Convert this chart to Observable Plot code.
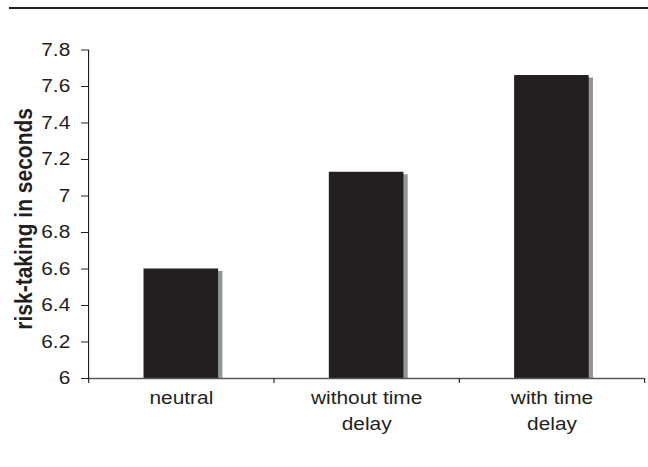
<!DOCTYPE html>
<html>
<head>
<meta charset="utf-8">
<script src="https://cdn.jsdelivr.net/npm/d3@7"></script>
<script src="https://cdn.jsdelivr.net/npm/@observablehq/plot@0.6"></script>
<style>
  html, body { margin: 0; padding: 0; background: white; }
  #wrap { position: relative; width: 648px; height: 467px; overflow: hidden; }
  #topline { position: absolute; left: 9px; top: 7px; width: 639px; height: 2px; background: #231f20; z-index: 2; }
  #chart svg { transform: scaleX(1.13); transform-origin: 0 0; display: block; }
</style>
</head>
<body>
<div id="wrap">
  <div id="topline"></div>
  <div id="chart"></div>
</div>
<script>
const categories = ["neutral", "without time\ndelay", "with time\ndelay"];
const values = [6.60, 7.13, 7.66];
const yTicks = [6, 6.2, 6.4, 6.6, 6.8, 7, 7.2, 7.4, 7.6, 7.8];
const yLabel = ["risk-taking in seconds"];

const data = categories.map((c, i) => ({category: c, value: values[i]}));

const S = 1.13;
const W = 648 / S;
const ml = 88 / S;
const mr = W - 644 / S;
const half = (W - ml - mr) / categories.length / 2;
const ink = "#231f20";

const chart = Plot.plot({
  width: W,
  height: 467,
  marginLeft: ml,
  marginRight: mr,
  marginTop: 49.5,
  marginBottom: 89,
  style: {fontFamily: "'Liberation Sans', Arial, Helvetica, sans-serif", fontSize: "18.5px", color: ink, background: "white", overflow: "visible"},
  x: {domain: categories, paddingInner: 0.595, paddingOuter: 0.2975, axis: null},
  y: {domain: [6, 7.8], axis: null},
  marks: [
    Plot.barY(data, {x: "category", y1: 6, y2: "value", fill: "#939598", dx: 3.8, dy: 2.5, clip: true}),
    Plot.barY(data, {x: "category", y1: 6, y2: "value", fill: ink}),
    Plot.ruleY([6], {stroke: "#58595b", strokeWidth: 1.5}),
    Plot.frame({anchor: "left", stroke: ink, strokeWidth: 1}),
    Plot.axisY(yTicks, {tickSize: 6.2, tickPadding: 10, tickFormat: d => String(d), fontSize: 18.5, stroke: ink, fill: ink, label: null}),
    Plot.axisX(categories, {tickSize: 0, tickPadding: 7, lineHeight: 1.4, fontSize: 18.5, fill: ink, label: null}),
    Plot.axisX(categories, {tickSize: 5, tickFormat: () => "", dx: -half, stroke: ink, label: null}),
    Plot.axisX([categories[categories.length - 1]], {tickSize: 5, tickFormat: () => "", dx: half, stroke: ink, label: null}),
    Plot.text(yLabel, {frameAnchor: "left", rotate: -90, textAnchor: "middle", dx: 21.2 - ml, dy: 4.6, fontWeight: "bold", fontSize: 21, fill: ink})
  ]
});
document.getElementById("chart").appendChild(chart);
</script>
</body>
</html>
